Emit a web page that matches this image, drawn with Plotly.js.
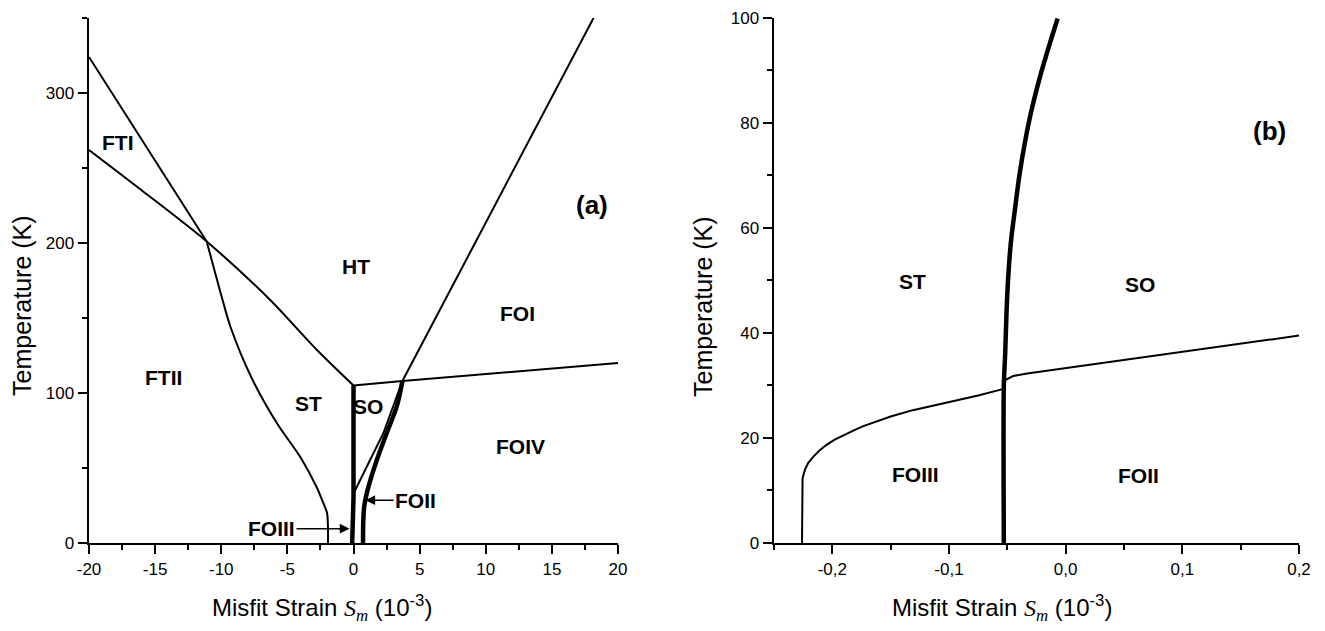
<!DOCTYPE html>
<html>
<head>
<meta charset="utf-8">
<script src="https://cdn.plot.ly/plotly-3.0.1.min.js"></script>
<style>
  html, body { margin: 0; padding: 0; background: #fff; }
  #chart { width: 1325px; height: 631px; }
</style>
</head>
<body>
<div id="chart"></div>
<script>
// ---------- Panel (a) data: misfit strain (10^-3) vs temperature (K) ----------
// FTI / HT upper boundary (straight part down to the crossing, then curved FTII/ST boundary)
const ftiUpperStrain = [-20, -15.5, -11.1];
const ftiUpperTemp   = [324, 262, 201];
const ftiiStStrain = [-11.1, -9.9, -9.3, -7.7, -5.8, -4.0, -2.8, -2.3, -2.0, -1.93, -1.93];
const ftiiStTemp   = [201, 162, 144, 110, 80, 57, 37.5, 27, 20, 10, 0];

const htBoundStrain = [-20, -16, -11.1, -6.3, -2.8, 0];
const htBoundTemp   = [262, 235, 201, 162, 129, 105];

const stSoStrainA = [-0.1, 0, 0];
const stSoTempA   = [0, 30, 105];

const foiBoundStrain = [0, 3.7, 20];
const foiBoundTemp   = [105, 108, 120];

const htFoiStrain = [18.15, 3.7, 2.25, 1.25, 0.4, 0];
const htFoiTemp   = [350, 108, 73, 55, 40, 33];

const foiiStrainA = [0.72, 0.74, 0.82, 1.0, 1.35, 1.75, 2.5, 3.27, 3.7];
const foiiTempA   = [0, 15, 25, 33, 44, 55, 73, 91, 108];

const xTickValsA = [-20, -15, -10, -5, 0, 5, 10, 15, 20];
const xTickTextA = ['-20', '-15', '-10', '-5', '0', '5', '10', '15', '20'];
const yTickValsA = [0, 100, 200, 300];
const yTickTextA = ['0', '100', '200', '300'];

// ---------- Panel (b) data ----------
const foiiiBoundStrain = [-0.226, -0.226, -0.2255, -0.2245, -0.223, -0.2205, -0.216, -0.211, -0.205, -0.198, -0.19, -0.182, -0.174, -0.162, -0.15, -0.131, -0.115, -0.1, -0.075, -0.054];
const foiiiBoundTemp   = [0, 11, 12.3, 13.2, 14.2, 15.3, 16.5, 17.6, 18.7, 19.7, 20.6, 21.4, 22.2, 23.2, 24.1, 25.3, 26.1, 26.9, 28.1, 29.3];

const foiiBoundStrain = [-0.052, -0.045, -0.033, 0.2];
const foiiBoundTemp   = [31.0, 31.8, 32.3, 39.5];

const stSoStrainB = [-0.053, -0.053, -0.0518, -0.0506, -0.0492, -0.047, -0.0435, -0.0398, -0.035, -0.0292, -0.022, -0.0135, -0.0069];
const stSoTempB   = [0, 30, 36.3, 44.5, 50.8, 57.2, 63.5, 69.8, 76.2, 82.5, 88.8, 95.2, 99.9];

const xTickValsB = [-0.2, -0.1, 0.0, 0.1, 0.2];
const xTickTextB = ['-0,2', '-0,1', '0,0', '0,1', '0,2'];
const yTickValsB = [0, 20, 40, 60, 80, 100];
const yTickTextB = ['0', '20', '40', '60', '80', '100'];

// ---------- Traces ----------
const thin = { color: '#000', width: 2 };
const thinSpline = { color: '#000', width: 2, shape: 'spline', smoothing: 0.8 };
const thick = { color: '#000', width: 4.5 };
const thickSpline = { color: '#000', width: 4.5, shape: 'spline', smoothing: 0.8 };
function tr(x, y, line, xa, ya) {
  return { x: x, y: y, mode: 'lines', line: line, xaxis: xa, yaxis: ya, hoverinfo: 'skip', showlegend: false };
}
const data = [
  tr(ftiUpperStrain, ftiUpperTemp, thin, 'x', 'y'),
  tr(ftiiStStrain, ftiiStTemp, thinSpline, 'x', 'y'),
  tr(htBoundStrain, htBoundTemp, thinSpline, 'x', 'y'),
  tr(foiBoundStrain, foiBoundTemp, thin, 'x', 'y'),
  tr(htFoiStrain, htFoiTemp, thin, 'x', 'y'),
  tr(stSoStrainA, stSoTempA, thick, 'x', 'y'),
  tr(foiiStrainA, foiiTempA, thickSpline, 'x', 'y'),
  tr(foiiiBoundStrain, foiiiBoundTemp, thin, 'x2', 'y2'),
  tr(foiiBoundStrain, foiiBoundTemp, thin, 'x2', 'y2'),
  tr(stSoStrainB, stSoTempB, thickSpline, 'x2', 'y2')
];

// ---------- Layout ----------
const FONT = 'Liberation Sans, Arial, sans-serif';
const xTitle = 'Misfit Strain <span style="font-family:Liberation Serif, Times New Roman, serif"><i>S</i><sub><i>m</i></sub></span> (10<sup>-3</sup>)';
const yTitle = 'Temperature (K)';

function axisBase() {
  return {
    showline: true, linecolor: '#000', linewidth: 2.5, mirror: false,
    showgrid: false, zeroline: false,
    ticks: 'outside', ticklen: 9, tickwidth: 2, tickcolor: '#000',
    tickmode: 'array', automargin: false,
    tickfont: { family: FONT, size: 17, color: '#000' },
    fixedrange: true
  };
}
function minor(dtick) {
  return { tickmode: 'linear', tick0: 0, dtick: dtick, ticks: 'outside', ticklen: 5, tickwidth: 2, tickcolor: '#000', showgrid: false };
}
const yDom = [0.1395, 0.9715];

const xaxis = Object.assign(axisBase(), {
  domain: [89 / 1325, 618 / 1325], range: [-20, 20], anchor: 'y',
  tickvals: xTickValsA, ticktext: xTickTextA, minor: minor(2.5)
});
const yaxis = Object.assign(axisBase(), {
  domain: yDom, range: [0, 350], anchor: 'x',
  tickvals: yTickValsA, ticktext: yTickTextA, minor: minor(50)
});
const xaxis2 = Object.assign(axisBase(), {
  domain: [774 / 1325, 1299 / 1325], range: [-0.25, 0.2], anchor: 'y2',
  tickvals: xTickValsB, ticktext: xTickTextB, minor: minor(0.05)
});
const yaxis2 = Object.assign(axisBase(), {
  domain: yDom, range: [0, 100], anchor: 'x2',
  tickvals: yTickValsB, ticktext: yTickTextB, minor: minor(10)
});

function lab(text, x, y, xr, yr, size) {
  return { text: text, x: x, y: y, xref: xr, yref: yr, showarrow: false,
           font: { family: FONT, size: size || 21, color: '#000', weight: 'bold' } };
}
function axTitle(text, x, y, angle, size) {
  return { text: text, x: x, y: y, xref: 'paper', yref: 'paper', showarrow: false,
           xanchor: 'center', yanchor: 'middle', textangle: angle,
           font: { family: FONT, size: size, color: '#000' } };
}
const annotations = [
  axTitle(xTitle, 322 / 1325, 1 - 608 / 631, 0, 24),
  axTitle(xTitle, 1002 / 1325, 1 - 608 / 631, 0, 24),
  axTitle(yTitle, 22 / 1325, 1 - 306 / 631, -90, 25),
  axTitle(yTitle, 703 / 1325, 1 - 307 / 631, -90, 25),
  lab('FTI', -17.8, 267, 'x', 'y'),
  lab('FTII', -14.4, 110, 'x', 'y'),
  lab('ST', -3.4, 93, 'x', 'y'),
  lab('SO', 1.1, 91, 'x', 'y'),
  lab('HT', 0.2, 184, 'x', 'y'),
  lab('FOI', 12.4, 153, 'x', 'y'),
  lab('FOIV', 12.6, 64, 'x', 'y'),
  lab('(a)', 18.0, 225, 'x', 'y', 26),
  {
    text: 'FOIII', x: -0.3, y: 9.5, ax: -6.2, ay: 9.5, xref: 'x', yref: 'y', axref: 'x', ayref: 'y',
    showarrow: true, arrowhead: 2, arrowsize: 1.3, arrowwidth: 1.5, arrowcolor: '#000', standoff: 0,
    font: { family: FONT, size: 21, color: '#000', weight: 'bold' }
  },
  {
    text: 'FOII', x: 0.9, y: 28.5, ax: 4.7, ay: 28.5, xref: 'x', yref: 'y', axref: 'x', ayref: 'y',
    showarrow: true, arrowhead: 2, arrowsize: 1.3, arrowwidth: 1.5, arrowcolor: '#000', standoff: 0,
    font: { family: FONT, size: 21, color: '#000', weight: 'bold' }
  },
  lab('ST', -0.131, 49.8, 'x2', 'y2'),
  lab('SO', 0.064, 49.2, 'x2', 'y2'),
  lab('(b)', 0.175, 78.4, 'x2', 'y2', 26),
  lab('FOIII', -0.129, 13.1, 'x2', 'y2'),
  lab('FOII', 0.062, 12.8, 'x2', 'y2')
];

const layout = {
  width: 1325, height: 631,
  margin: { l: 0, r: 0, t: 0, b: 0 },
  paper_bgcolor: '#fff', plot_bgcolor: 'rgba(0,0,0,0)',
  font: { family: FONT, color: '#000' },
  showlegend: false,
  xaxis: xaxis, yaxis: yaxis, xaxis2: xaxis2, yaxis2: yaxis2,
  annotations: annotations
};

Plotly.newPlot('chart', data, layout, { displayModeBar: false, staticPlot: true });
</script>
</body>
</html>
